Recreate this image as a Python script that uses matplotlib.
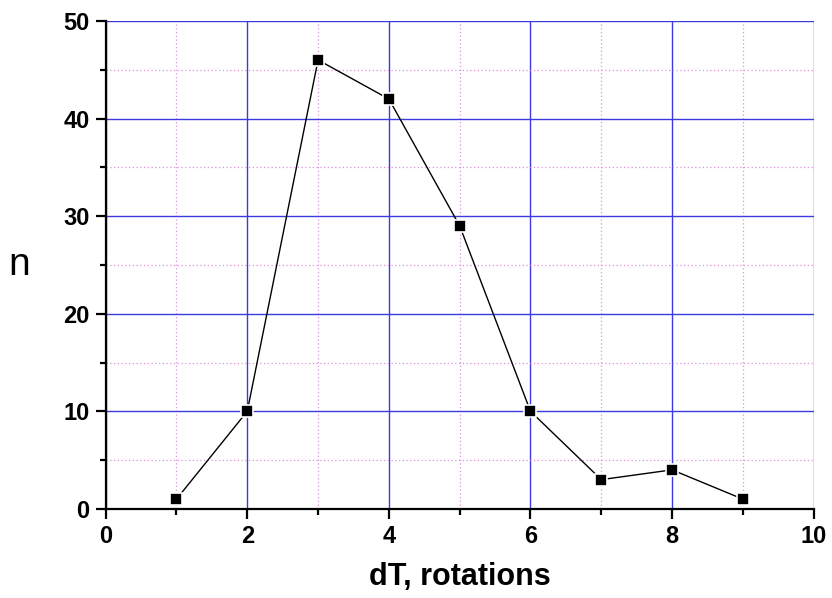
import matplotlib
matplotlib.use("Agg")
from matplotlib import pyplot as plt
from matplotlib.ticker import MultipleLocator

plt.rcParams['font.family'] = ['Liberation Sans', 'DejaVu Sans']

# data
dT = [1, 2, 3, 4, 5, 6, 7, 8, 9]
n = [1, 10, 46, 42, 29, 10, 3, 4, 1]

fig = plt.figure(figsize=(8.32, 5.98), dpi=100)
ax = fig.add_axes([0.127, 0.149, 0.851, 0.816])

ax.plot(dT, n, color='black', lw=1.0, marker='s', markersize=8.5,
        markerfacecolor='black', markeredgecolor='white', markeredgewidth=1.2,
        zorder=3)

ax.set_xlim(0, 10)
ax.set_ylim(0, 50)
ax.xaxis.set_major_locator(MultipleLocator(2))
ax.xaxis.set_minor_locator(MultipleLocator(1))
ax.yaxis.set_major_locator(MultipleLocator(10))
ax.yaxis.set_minor_locator(MultipleLocator(5))

ax.grid(which='major', color='#3a3ae0', lw=1.0, zorder=0)
ax.grid(which='minor', color='#e090e0', lw=0.9, ls=(0, (1, 2)), zorder=0)

for s in ['top', 'right']:
    ax.spines[s].set_visible(False)
ax.spines['left'].set_linewidth(1.6)
ax.spines['bottom'].set_linewidth(1.6)

ax.tick_params(which='major', direction='out', length=7.5, width=1.6,
               labelsize=17, pad=4)
ax.tick_params(which='minor', direction='out', length=4, width=1.6)
for lab in ax.get_xticklabels() + ax.get_yticklabels():
    lab.set_fontweight('bold')

ax.set_xlabel('dT, rotations', fontsize=22, fontweight='bold', labelpad=10)
ax.set_ylabel('n', fontsize=28, rotation=0, labelpad=32, va='center')

fig.savefig('out.png', dpi=100)
